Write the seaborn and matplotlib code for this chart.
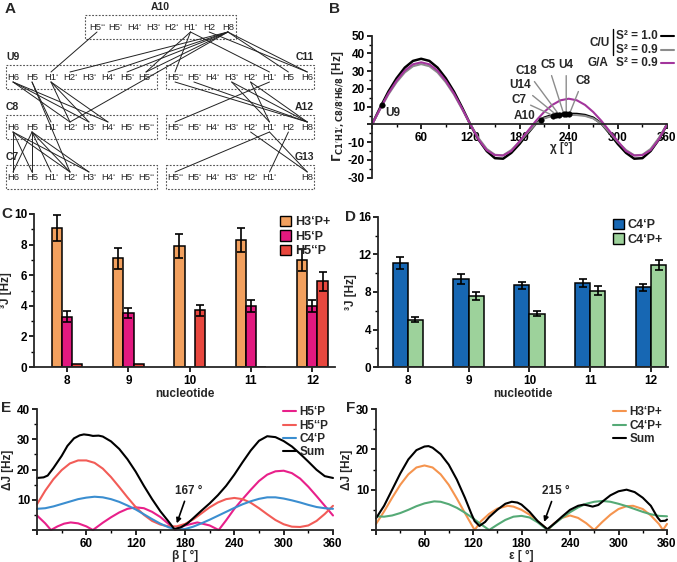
import numpy as np
import pandas as pd
import matplotlib
matplotlib.use("Agg")
import matplotlib.pyplot as plt
from matplotlib.lines import Line2D
from matplotlib.patches import Patch, Rectangle
from matplotlib.ticker import MultipleLocator, FuncFormatter
import seaborn as sns

# ---------------- data ----------------
# panel A: residues, atoms and NOE-type contacts
res_a10 = ["H5‘‘", "H5‘", "H4‘", "H3‘", "H2‘", "H1‘", "H2", "H8"]
res_u9 = ["H6", "H5", "H1‘", "H2‘", "H3‘", "H4‘", "H5‘", "H5‘‘"]
res_c8 = ["H6", "H5", "H1‘", "H2‘", "H3‘", "H4‘", "H5‘", "H5‘‘"]
res_c7 = ["H6", "H5", "H1‘", "H2‘", "H3‘", "H4‘", "H5‘", "H5‘‘"]
res_c11 = ["H5‘‘", "H5‘", "H4‘", "H3‘", "H2‘", "H1‘", "H5", "H6"]
res_a12 = ["H5‘‘", "H5‘", "H4‘", "H3‘", "H2‘", "H1‘", "H2", "H8"]
res_g13 = ["H5‘‘", "H5‘", "H4‘", "H3‘", "H2‘", "H1‘", "", "H8"]
contacts = [
    ("A10", "H5‘‘", "U9", "H1‘"), ("A10", "H8", "U9", "H2‘"), ("A10", "H8", "U9", "H4‘"),
    ("A10", "H8", "U9", "H5‘"), ("A10", "H8", "U9", "H5‘‘"), ("A10", "H1‘", "U9", "H5‘‘"),
    ("A10", "H1‘", "C11", "H5‘‘"), ("A10", "H1‘", "C11", "H1‘"), ("A10", "H2", "C11", "H6"),
    ("A10", "H8", "C11", "H5"), ("A10", "H8", "C11", "H6"), ("A10", "H8", "C8", "H2‘"),
    ("U9", "H6", "C8", "H2‘"), ("U9", "H6", "C8", "H3‘"), ("U9", "H6", "C8", "H4‘"),
    ("U9", "H5", "C8", "H1‘"), ("U9", "H1‘", "C8", "H2‘"), ("U9", "H1‘", "C8", "H3‘"),
    ("U9", "H1‘", "C8", "H4‘"), ("U9", "H5", "C7", "H2‘"),
    ("C8", "H6", "C7", "H6"), ("C8", "H6", "C7", "H5"), ("C8", "H6", "C7", "H2‘"),
    ("C8", "H6", "C7", "H3‘"), ("C8", "H5", "C7", "H5"), ("C8", "H5", "C7", "H6"),
    ("C8", "H5", "C7", "H1‘"), ("C8", "H5", "C7", "H2‘"), ("C8", "H5", "C7", "H3‘"),
    ("C11", "H5‘‘", "A12", "H8"), ("C11", "H5‘", "A12", "H8"), ("C11", "H3‘", "A12", "H1‘"),
    ("C11", "H3‘", "A12", "H8"), ("C11", "H2‘", "A12", "H1‘"), ("C11", "H2‘", "A12", "H8"),
    ("C11", "H1‘", "A12", "H5‘‘"),
    ("A12", "H1‘", "G13", "H5‘‘"), ("A12", "H1‘", "G13", "H8"), ("A12", "H2‘", "G13", "H8"),
    ("A12", "H2", "G13", "H1‘"),
]

# panel B: cross-correlated relaxation vs chi
chi = list(range(0, 361, 10))
gamma_cu_10 = [0, 9.5, 18.5, 26, 32, 35.8, 37, 35.8, 32, 26, 18.5, 9.5, 0,
               -8.5, -15, -19, -19.3, -16, -11, -5, 0.5, 3.8, 5.3, 5.9, 6,
               5.9, 5.3, 3.8, 0.5, -5, -11, -16, -19.3, -19, -15, -8.5, 0]
gamma_cu_09 = [0, 8.6, 16.9, 23.8, 29.3, 32.8, 34, 32.8, 29.3, 23.8, 16.9, 8.6, 0,
               -7.7, -13.8, -17.1, -17.4, -14.4, -9.9, -4.5, 0.4, 3.4, 4.8, 5.3, 5.4,
               5.3, 4.8, 3.4, 0.4, -4.5, -9.9, -14.4, -17.4, -17.1, -13.8, -7.7, 0]
gamma_ga_09 = [0, 9, 17.5, 24.6, 30.3, 33.9, 35, 33.9, 30.3, 24.6, 17.5, 9, 0,
               -8.5, -14.5, -17.3, -17.5, -15, -9.5, -3.8, 2, 7, 11, 13.6, 14.5,
               13.6, 11, 7, 2, -3.8, -9.5, -15, -17.5, -17.3, -14.5, -8.5, 0]
res_names = ["U9", "A10", "C7", "U14", "C18", "C5", "U4", "C8"]
res_chi = [12, 206, 221, 225, 228, 234, 237, 241]
res_gamma = [11, 2.6, 5.0, 5.4, 5.6, 5.9, 6.0, 6.0]

# panel C / D: 3J couplings per nucleotide
nucleotides = ["8", "9", "10", "11", "12"]
j_h3p_plus = [9.1, 7.1, 7.9, 8.3, 7.0]
j_h3p_plus_err = [0.85, 0.7, 0.8, 0.8, 0.7]
j_h5p = [3.3, 3.5, 0, 4.0, 4.0]
j_h5p_err = [0.33, 0.33, np.nan, 0.4, 0.4]
j_h5pp = [0.2, 0.2, 3.7, 0, 5.6]
j_h5pp_err = [np.nan, np.nan, 0.37, np.nan, 0.6]
j_c4p = [11.1, 9.4, 8.7, 8.95, 8.5]
j_c4p_err = [0.6, 0.5, 0.4, 0.45, 0.4]
j_c4p_plus = [5.05, 7.55, 5.7, 8.15, 10.9]
j_c4p_plus_err = [0.25, 0.4, 0.3, 0.45, 0.55]

# panel E: deviation vs beta
beta_h5p = [0, 10, 17, 25, 33, 41, 50, 60, 68, 80, 90, 100, 110, 120, 130, 140, 150, 160,
            168, 180, 195, 210, 221, 230, 240, 250, 260, 270, 280, 290, 300, 310, 320,
            330, 340, 350, 360]
dj_h5p = [4.8, 2.2, 0, 1.2, 2.1, 2.5, 2.2, 1.2, 0, 2.4, 4.2, 5.8, 7, 7.5, 7.2, 6, 4.3, 2,
          0, 1.5, 2.5, 1.5, 0, 3.2, 7, 10.2, 13.3, 16.2, 18.3, 19.4, 19.6, 18.8, 17,
          14.3, 11.2, 8, 4.8]
beta_h5pp = list(range(0, 361, 10))
dj_h5pp = [8.5, 13, 16.8, 19.8, 22, 23, 23, 22.2, 20.3, 17.5, 14.2, 10.8, 7.6, 5, 3,
           1.8, 1.2, 1.2, 2, 3.5, 5.5, 7.5, 9.1, 10.2, 10.6, 10.2, 9, 7.2, 5.2, 3.3,
           1.9, 1.1, 1.0, 1.5, 3, 5.3, 8]
beta_c4p = list(range(0, 361, 10))
dj_c4p = [7, 7.2, 7.8, 8.6, 9.4, 10.2, 10.7, 11, 10.8, 10.2, 9.3, 8.1, 6.8, 5.2, 3.6,
          2.1, 0.9, 0.2, 0.3, 1.1, 2.2, 3.4, 4.7, 6, 7.3, 8.5, 9.5, 10.3, 10.8, 10.8,
          10.4, 9.8, 9.1, 8.3, 7.6, 7.2, 7]
beta_sum = [0, 8, 13, 20, 30, 37, 45, 52, 57, 63, 68, 75, 80, 90, 100, 110, 120, 130,
            140, 150, 160, 167, 175, 183, 190, 200, 210, 220, 230, 240, 250, 260, 270,
            280, 290, 300, 310, 320, 330, 340, 350, 360]
dj_sum_beta = [17.2, 17.4, 18, 20.5, 24.5, 27.8, 30.3, 31.3, 31.6, 31.4, 31.1, 31.2,
               30.9, 29.3, 26.8, 23.4, 19.3, 14.6, 10.2, 6.2, 2.8, 0.3, 0.9, 2.2, 3.9,
               6.4, 8.8, 11.5, 14.6, 18.3, 22.4, 26.3, 29.5, 31, 30.7, 29.4, 27.6, 25.2,
               22.6, 19.9, 17.8, 17.2]

# panel F: deviation vs epsilon
eps_h3p = [0, 10, 20, 30, 40, 50, 60, 70, 80, 90, 100, 110, 122, 130, 140, 150, 163,
           170, 180, 190, 200, 213, 220, 230, 240, 250, 260, 270, 280, 290, 300, 310,
           318, 330, 340, 350, 355, 360]
dj_h3p = [1.5, 4.6, 8, 11.2, 13.8, 15.5, 16, 15.5, 13.8, 11.2, 7.8, 4.2, 0, 2.2, 4, 5.3,
          6, 5.8, 5, 3.8, 2.2, 0, 1.6, 3, 3.6, 3, 1.7, 0, 2, 3.8, 5.2, 5.9, 6, 5.2, 3.6,
          1.5, 0, 1.5]
eps_c4p = [0, 10, 20, 30, 40, 50, 60, 72, 80, 90, 100, 110, 120, 130, 140, 150, 160,
           170, 180, 190, 200, 212, 220, 230, 240, 250, 260, 270, 280, 290, 300, 310,
           320, 330, 340, 350, 360]
dj_c4p_plus = [3.4, 3.3, 3.6, 4.2, 5, 5.9, 6.6, 7.1, 7, 6.4, 5.5, 4.3, 2.9, 1.4, 0, 1.3,
               2.5, 3.3, 3.5, 3.1, 1.9, 0, 1.4, 3, 4.4, 5.6, 6.5, 7, 7.2, 7, 6.5, 5.9,
               5.2, 4.5, 3.9, 3.5, 3.4]
eps_sum = [0, 10, 20, 30, 40, 50, 60, 65, 70, 80, 90, 100, 110, 118, 122, 128, 135, 140,
           150, 160, 168, 175, 180, 190, 200, 212, 220, 230, 240, 250, 257, 262, 268,
           275, 283, 290, 300, 310, 320, 330, 340, 348, 352, 358, 360]
dj_sum_eps = [2.9, 6, 10, 14, 17.5, 19.8, 20.7, 20.8, 20.4, 18.8, 16.2, 12.5, 8, 4, 2.2,
              1, 2, 3.2, 5, 6.5, 7, 6.8, 6.3, 4.5, 2.2, 0.2, 1.5, 3.3, 5, 6, 6.3, 6.1,
              5.8, 6.2, 7.5, 8.6, 9.6, 10, 9.4, 8, 6, 3.2, 2.2, 2.3, 2.6]

# ---------------- style ----------------
sns.set_style("ticks")
plt.rcParams["font.family"] = ["Liberation Sans", "DejaVu Sans"]
plt.rcParams.update({
    "font.weight": "bold", "axes.labelweight": "bold", "axes.linewidth": 1.3,
    "axes.unicode_minus": False, "font.size": 8.5,
    "xtick.major.size": 3.5, "ytick.major.size": 3.5, "xtick.minor.size": 2,
    "ytick.minor.size": 2, "xtick.major.width": 1.2, "ytick.major.width": 1.2,
    "xtick.minor.width": 1.0, "ytick.minor.width": 1.0,
    "xtick.major.pad": 2, "ytick.major.pad": 1.5,
    "xtick.labelsize": 8.5, "ytick.labelsize": 8.5,
})

W, H = 677, 562
fig = plt.figure(figsize=(W / 100, H / 100), dpi=100)


def px_axes(l, t, r, b):
    return fig.add_axes([l / W, 1 - b / H, (r - l) / W, (b - t) / H])


def ftext(x, y, s, **kw):
    fig.text(x / W, 1 - y / H, s, **kw)


def plain(ax):
    sns.despine(ax=ax)
    ax.tick_params(which="both", direction="out", colors="black")


# ---------------- panel A ----------------
axA = px_axes(0, 0, 330, 200)
axA.set_xlim(0, 330)
axA.set_ylim(200, 0)
axA.axis("off")
layout = {  # name: (first atom x, spacing, text y, box l, box r, label x, label ha)
    "A10": (97, 18.7, 27, 85, 236, 160, "center", res_a10),
    "U9": (13, 19.0, 77, 6, 157, 6, "left", res_u9),
    "C11": (175, 18.9, 77, 166, 314, 314, "right", res_c11),
    "C8": (13, 19.0, 127, 6, 157, 6, "left", res_c8),
    "A12": (175, 18.9, 127, 166, 314, 314, "right", res_a12),
    "C7": (13, 19.0, 177, 6, 157, 6, "left", res_c7),
    "G13": (175, 18.9, 177, 166, 314, 314, "right", res_g13),
}
for name, (x0, dx, ty, bl, br, lx, lha, atoms) in layout.items():
    axA.add_patch(Rectangle((bl, ty - 12), br - bl, 24, fill=False, lw=0.8,
                            ec="#555555", ls=(0, (1.6, 1.4))))
    axA.text(lx, ty - 15, name, ha=lha, va="bottom", fontsize=7.5, fontweight="bold")
    for i, at in enumerate(atoms):
        axA.text(x0 + i * dx, ty, at, ha="center", va="center", fontsize=6.8,
                 fontweight="normal")


def atom_xy(res, atom):
    x0, dx, ty = layout[res][0], layout[res][1], layout[res][2]
    return x0 + layout[res][7].index(atom) * dx, ty


for r1, a1, r2, a2 in contacts:
    x1, y1 = atom_xy(r1, a1)
    x2, y2 = atom_xy(r2, a2)
    axA.plot([x1, x2], [y1 + 5, y2 - 5], color="#222222", lw=0.7)

# ---------------- panel B ----------------
axB = px_axes(372, 35.7, 667, 177.7)
sns.lineplot(x=chi, y=gamma_cu_10, color="black", lw=1.8, ax=axB, estimator=None)
sns.lineplot(x=chi, y=gamma_cu_09, color="#8c8c8c", lw=1.5, ax=axB, estimator=None)
sns.lineplot(x=chi, y=gamma_ga_09, color="#a3359c", lw=1.5, ax=axB, estimator=None)
sns.scatterplot(x=res_chi, y=res_gamma, color="black", s=16, ax=axB, zorder=5,
                edgecolor="black")
axB.set_xlim(0, 360)
axB.set_ylim(-30, 50)
plain(axB)
axB.spines["bottom"].set_position(("data", 0))
axB.xaxis.set_major_locator(MultipleLocator(60))
axB.xaxis.set_minor_locator(MultipleLocator(30))
axB.yaxis.set_major_locator(MultipleLocator(10))
axB.yaxis.set_minor_locator(MultipleLocator(5))
axB.xaxis.set_major_formatter(FuncFormatter(lambda v, p: "" if v == 0 else f"{v:.0f}"))
axB.yaxis.set_major_formatter(FuncFormatter(lambda v, p: "" if v == 0 else f"{v:.0f}"))
axB.set_ylabel(r"$\mathbf{\Gamma}_{\mathrm{C1'H1',C8/8'H6/8}}$ [Hz]", fontsize=8.5,
               labelpad=1)
axB.text(231, -13.5, "χ [°]", ha="center", va="center", fontsize=8.5)
label_pos = {"U9": (16, 6.6, "left"), "A10": (200, 4.5, "right"),
             "C7": (188, 14, "right"), "U14": (194, 22, "right"),
             "C18": (202, 30, "right"), "C5": (215, 33.5, "center"),
             "U4": (237, 33.5, "center"), "C8": (257, 24.5, "center")}
for n, cx, gy in zip(res_names, res_chi, res_gamma):
    tx, ty, ha = label_pos[n]
    if n in ("U9", "A10"):
        axB.text(tx, ty, n, ha=ha, va="center", fontsize=8.5)
    else:
        axB.annotate(n, xy=(cx, gy), xytext=(tx, ty), ha=ha, va="center", fontsize=8.5,
                     arrowprops=dict(arrowstyle="-", color="#8c8c8c", lw=1.0,
                                     shrinkA=1, shrinkB=1))
# legend of B
ftext(600, 43, "C/U", ha="center", va="center", fontsize=8.5, fontweight="bold")
fig.add_artist(Line2D([613 / W, 613 / W], [1 - 29 / H, 1 - 55 / H], color="black", lw=1.0))
for y, lab, col in [(36, "S² = 1.0", "black"), (50, "S² = 0.9", "#8c8c8c"),
                    (63, "S² = 0.9", "#a3359c")]:
    ftext(616, y, lab, ha="left", va="center", fontsize=8.5, fontweight="bold")
    fig.add_artist(Line2D([661 / W, 674 / W], [1 - y / H, 1 - y / H], color=col, lw=1.5))
ftext(598, 63, "G/A", ha="center", va="center", fontsize=8.5, fontweight="bold")

# ---------------- panel C / D ----------------
def bars(ax, groups, vals, errs, colors):
    df = pd.DataFrame({
        "nucleotide": nucleotides * len(groups),
        "J": [v for vv in vals for v in vv],
        "coupling": [g for g in groups for _ in nucleotides],
    })
    sns.barplot(data=df, x="nucleotide", y="J", hue="coupling", order=nucleotides,
                hue_order=groups, palette=colors, width=0.5, saturation=1,
                edgecolor="black", linewidth=1.1, errorbar=None, legend=False, ax=ax)
    for cont, ee in zip(ax.containers, errs):
        xs = [b.get_x() + b.get_width() / 2 for b in cont]
        ys = [b.get_height() for b in cont]
        ax.errorbar(xs, ys, yerr=ee, fmt="none", ecolor="black", elinewidth=1.2,
                    capsize=3.2, capthick=1.2, zorder=5)
    plain(ax)
    ax.set_xlabel("nucleotide", fontsize=8.5, labelpad=1)
    ax.set_ylabel("³J [Hz]", fontsize=8.5, labelpad=1)
    ax.legend(handles=[Patch(fc=c, ec="black", lw=1.0) for c in colors], labels=groups,
              loc="upper right", frameon=False, fontsize=9, handlelength=0.9,
              handleheight=0.9, handletextpad=0.3, labelspacing=0.15,
              borderaxespad=0.0, bbox_to_anchor=(1.0, 1.02))


axC = px_axes(34, 214, 335, 367)
bars(axC, ["H3‘P+", "H5‘P", "H5‘‘P"], [j_h3p_plus, j_h5p, j_h5pp],
     [j_h3p_plus_err, j_h5p_err, j_h5pp_err], ["#f2a05e", "#e2197f", "#e8473e"])
axC.set_xlim(-0.54, 4.37)
axC.set_ylim(0, 10)
axC.yaxis.set_major_locator(MultipleLocator(2))
axC.yaxis.set_minor_locator(MultipleLocator(1))

axD = px_axes(378, 217, 668, 367)
bars(axD, ["C4‘P", "C4‘P+"], [j_c4p, j_c4p_plus], [j_c4p_err, j_c4p_plus_err],
     ["#1767b3", "#9dd29b"])
axD.set_xlim(-0.49, 4.28)
axD.set_ylim(0, 16)
axD.yaxis.set_major_locator(MultipleLocator(4))
axD.yaxis.set_minor_locator(MultipleLocator(2))

# ---------------- panel E / F ----------------
def curves(ax, series, ymax, xlabel):
    for xs, ys, col, lab in series:
        sns.lineplot(x=xs, y=ys, color=col, lw=1.5, ax=ax, estimator=None,
                     sort=False, label=lab, clip_on=False)
    ax.set_xlim(0, 360)
    ax.set_ylim(0, ymax)
    plain(ax)
    ax.xaxis.set_major_locator(MultipleLocator(60))
    ax.xaxis.set_minor_locator(MultipleLocator(30))
    ax.yaxis.set_major_locator(MultipleLocator(10))
    ax.yaxis.set_minor_locator(MultipleLocator(5))
    ax.xaxis.set_major_formatter(FuncFormatter(lambda v, p: "" if v == 0 else f"{v:.0f}"))
    ax.yaxis.set_major_formatter(FuncFormatter(lambda v, p: "" if v == 0 else f"{v:.0f}"))
    ax.set_xlabel(xlabel, fontsize=8.5, labelpad=0)
    ax.set_ylabel("ΔJ [Hz]", fontsize=8.5, labelpad=2)
    ax.legend(loc="upper right", frameon=False, fontsize=8.5, handlelength=1.1,
              handletextpad=0.3, labelspacing=0.1, borderaxespad=0.0,
              bbox_to_anchor=(1.0, 1.06))


axE = px_axes(37, 409, 333, 530)
curves(axE, [(beta_h5p, dj_h5p, "#e8208a", "H5‘P"),
             (beta_h5pp, dj_h5pp, "#f25c57", "H5‘‘P"),
             (beta_c4p, dj_c4p, "#3b8ed0", "C4‘P"),
             (beta_sum, dj_sum_beta, "black", "Sum")], 40, "β [ °]")
axE.annotate("167 °", xy=(170, 2.2), xytext=(184, 11), ha="center", va="bottom",
             fontsize=8.5, arrowprops=dict(arrowstyle="-|>", color="black", lw=1.2,
                                           mutation_scale=7, shrinkA=1, shrinkB=0))

axF = px_axes(376, 409, 667, 530)
curves(axF, [(eps_h3p, dj_h3p, "#f5944e", "H3‘P+"),
             (eps_c4p, dj_c4p_plus, "#55aa76", "C4‘P+"),
             (eps_sum, dj_sum_eps, "black", "Sum")], 30, "ε [ °]")
axF.annotate("215 °", xy=(208, 2), xytext=(222, 8.2), ha="center", va="bottom",
             fontsize=8.5, arrowprops=dict(arrowstyle="-|>", color="black", lw=1.2,
                                           mutation_scale=7, shrinkA=1, shrinkB=0))

# panel letters
for x, y, s in [(10, 9, "A"), (335, 9, "B"), (7, 214, "C"), (351, 217, "D"),
                (6, 408, "E"), (351, 408, "F")]:
    ftext(x, y, s, ha="center", va="center", fontsize=11, fontweight="bold")

fig.savefig("out.png", dpi=100)
